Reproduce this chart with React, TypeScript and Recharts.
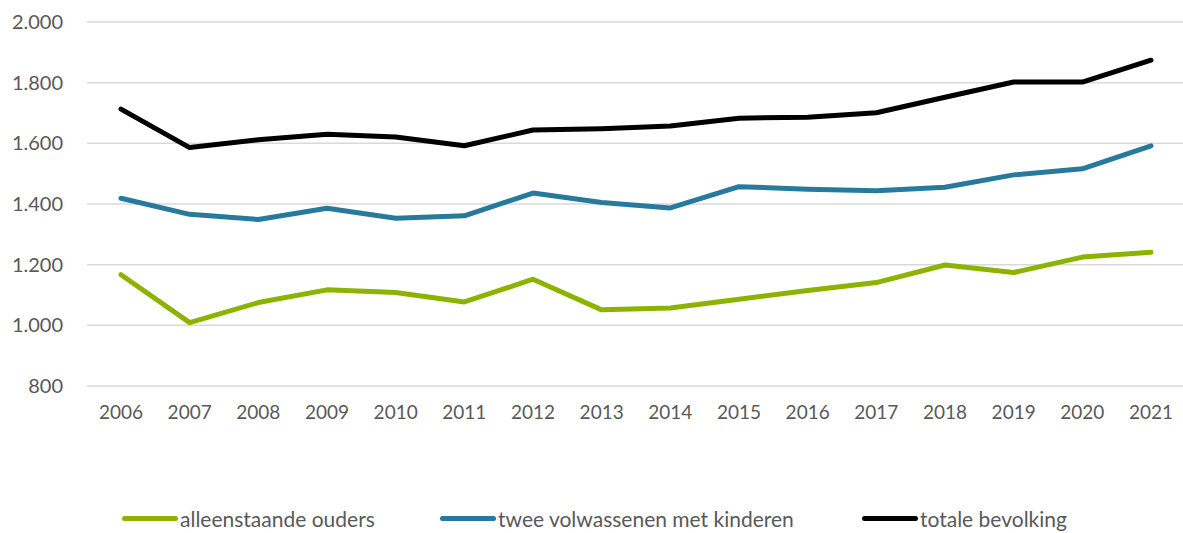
import { LineChart, Line, XAxis, YAxis, CartesianGrid, Legend } from 'recharts';

const years = ['2006', '2007', '2008', '2009', '2010', '2011', '2012', '2013', '2014', '2015', '2016', '2017', '2018', '2019', '2020', '2021'];
const alleenstaandeOuders = [1167, 1009, 1075, 1117, 1108, 1077, 1152, 1051, 1057, 1086, 1115, 1141, 1199, 1174, 1225, 1241];
const tweeVolwassenen = [1419, 1366, 1349, 1386, 1353, 1361, 1436, 1405, 1387, 1457, 1449, 1444, 1455, 1496, 1516, 1592];
const totaleBevolking = [1713, 1586, 1612, 1630, 1621, 1592, 1644, 1648, 1657, 1683, 1686, 1701, 1752, 1802, 1802, 1874];
const yTicks = [800, 1000, 1200, 1400, 1600, 1800, 2000];

const series = [
  { key: 'alleen', name: 'alleenstaande ouders', color: '#8db300', width: 318 },
  { key: 'twee', name: 'twee volwassenen met kinderen', color: '#287a9c', width: 422 },
  { key: 'totaal', name: 'totale bevolking', color: '#000000', width: 260 },
];

const data = years.map((year, i) => ({
  year,
  alleen: alleenstaandeOuders[i],
  twee: tweeVolwassenen[i],
  totaal: totaleBevolking[i],
}));

const font = 'Lato, "Open Sans", sans-serif';
const formatNum = (v: number) => v.toLocaleString('de-DE');

const LegendContent = () => (
  <div style={{ display: 'flex', height: 30, alignItems: 'center', paddingLeft: 122, fontFamily: font, fontSize: 21, color: '#595959' }}>
    {series.map((s) => (
      <div key={s.key} style={{ display: 'flex', alignItems: 'center', width: s.width }}>
        <span style={{ display: 'inline-block', width: 56, height: 5, borderRadius: 3, background: s.color, marginRight: 2 }} />
        <span>{s.name}</span>
      </div>
    ))}
  </div>
);

export default function App() {
  return (
    <div style={{ position: 'absolute', left: 0, top: 0, background: '#fff' }}>
      <LineChart width={1183} height={533} data={data} margin={{ top: 22, right: -2, bottom: 0, left: 0 }}>
        <CartesianGrid horizontal vertical={false} stroke="#d9d9d9" strokeWidth={1.5} />
        <XAxis
          dataKey="year"
          axisLine={false}
          tickLine={false}
          tickSize={0}
          tickMargin={20}
          height={117}
          interval={0}
          padding={{ left: 34, right: 34 }}
          tick={{ fill: '#595959', fontSize: 19, fontFamily: font }}
        />
        <YAxis
          domain={[800, 2000]}
          ticks={yTicks}
          axisLine={false}
          tickLine={false}
          tickSize={0}
          tickMargin={24}
          width={87}
          tickFormatter={formatNum}
          tick={{ fill: '#595959', fontSize: 20, fontFamily: font }}
        />
        <Legend verticalAlign="bottom" content={LegendContent} wrapperStyle={{ bottom: 0 }} />
        {series.map((s) => (
          <Line
            key={s.key}
            dataKey={s.key}
            name={s.name}
            stroke={s.color}
            strokeWidth={5}
            strokeLinecap="round"
            strokeLinejoin="round"
            dot={false}
            activeDot={false}
            isAnimationActive={false}
          />
        ))}
      </LineChart>
    </div>
  );
}
